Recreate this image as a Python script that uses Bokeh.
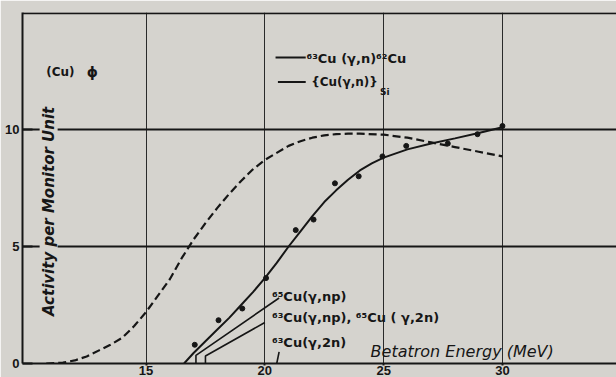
from bokeh.plotting import figure
from bokeh.models import Range1d, FixedTicker, Label, Span
from bokeh.embed import file_html
from bokeh.resources import INLINE

# ---- data ----
# dashed curve: 63Cu(g,n)62Cu
cu62_energy = [10.8, 11.5, 12.0, 12.5, 13.0, 13.5, 14.0, 14.5, 15.0, 15.5, 16.0, 16.5,
               17.0, 17.5, 18.0, 18.5, 19.0, 19.5, 20.0, 20.5, 21.0, 21.5, 22.0, 22.5,
               23.0, 23.5, 24.0, 25.0, 26.0, 27.0, 28.0, 29.0, 30.0]
cu62_activity = [0.0, 0.04, 0.13, 0.3, 0.55, 0.8, 1.1, 1.6, 2.2, 2.9, 3.6, 4.5,
                 5.3, 6.0, 6.65, 7.25, 7.8, 8.3, 8.7, 9.0, 9.3, 9.5, 9.65, 9.75,
                 9.8, 9.82, 9.82, 9.78, 9.65, 9.45, 9.25, 9.05, 8.85]

# solid curve: [Cu(g,n)]Si
cusi_energy = [16.6, 17.0, 17.5, 18.0, 18.5, 19.0, 19.5, 20.0, 20.5, 21.0, 21.5, 22.0,
               22.5, 23.0, 23.5, 24.0, 24.5, 25.0, 26.0, 27.0, 28.0, 29.0, 30.0]
cusi_activity = [0.0, 0.45, 0.95, 1.45, 1.95, 2.5, 3.05, 3.65, 4.3, 5.0, 5.65, 6.3,
                 6.9, 7.4, 7.85, 8.25, 8.55, 8.8, 9.15, 9.4, 9.62, 9.85, 10.1]

# measured points
pt_energy = [17.05, 18.05, 19.05, 20.05, 21.3, 22.05, 22.95, 23.95, 24.95, 25.95, 27.7, 28.95, 30.0]
pt_activity = [0.8, 1.85, 2.35, 3.65, 5.7, 6.15, 7.7, 8.0, 8.85, 9.3, 9.4, 9.8, 10.15]

# thresholds marked on the energy axis
threshold_labels = ["\u2076\u2075Cu(\u03b3,np)",
                    "\u2076\u00b3Cu(\u03b3,np), \u2076\u2075Cu ( \u03b3,2n)",
                    "\u2076\u00b3Cu(\u03b3,2n)"]
threshold_energy = [17.1, 17.5, 20.5]

x_ticks = [15, 20, 25, 30]
y_ticks = [0, 5, 10]

BG = "#d5d3ce"
INK = "#161616"

p = figure(width=616, height=377, output_backend="svg", toolbar_location=None,
           x_range=Range1d(9.8, 34.8), y_range=Range1d(0, 15),
           min_border_left=22, min_border_right=0, min_border_top=12, min_border_bottom=14)
p.background_fill_color = BG
p.border_fill_color = BG
p.outline_line_color = None

# axes
for ax in (p.xaxis, p.yaxis):
    ax.axis_line_color = INK
    ax.axis_line_width = 2
    ax.major_tick_line_color = INK
    ax.major_tick_line_width = 2
    ax.minor_tick_line_color = None
    ax.major_label_text_font = "Liberation Sans"
    ax.major_label_text_font_style = "bold"
    ax.major_label_text_font_size = "13px"
    ax.major_label_text_color = INK
p.xaxis.ticker = FixedTicker(ticks=x_ticks)
p.xaxis.major_tick_in = 0
p.xaxis.major_tick_out = 2
p.xaxis.major_label_standoff = 0
p.yaxis.ticker = FixedTicker(ticks=y_ticks)
p.yaxis.major_tick_in = 10
p.yaxis.major_tick_out = 0
p.yaxis.major_label_standoff = 3

# grid
p.xgrid.ticker = FixedTicker(ticks=x_ticks)
p.xgrid.grid_line_color = "#2a2a2a"
p.xgrid.grid_line_width = 1
p.ygrid.ticker = FixedTicker(ticks=[5, 10])
p.ygrid.grid_line_color = INK
p.ygrid.grid_line_width = 2

# top frame line
p.add_layout(Span(location=14.97, dimension="width", line_color=INK, line_width=2))

# curves
p.line(cu62_energy, cu62_activity, line_color=INK, line_width=2.2, line_dash="8 4")
p.line(cusi_energy, cusi_activity, line_color=INK, line_width=2)
p.scatter(pt_energy, pt_activity, size=5, color=INK)

# threshold leader lines
leader_start = [(20.6, 2.8), (20.0, 1.75), (20.6, 0.5)]
leader_knee = [0.35, 0.32, 0.0]
for (sx, sy), knee, thr in zip(leader_start, leader_knee, threshold_energy):
    if knee > 0:
        p.line([sx, thr, thr], [sy, knee, 0], line_color=INK, line_width=1.6)
    else:
        p.line([sx, thr], [sy, 0], line_color=INK, line_width=1.6)

label_y = [2.85, 1.95, 0.9]
for txt, ly in zip(threshold_labels, label_y):
    p.add_layout(Label(x=20.3, y=ly, text=txt, text_font="DejaVu Sans", text_font_style="bold",
                       text_font_size="13px", text_color=INK, text_baseline="middle"))

# legend (hand drawn style)
p.line([20.45, 21.72], [13.08, 13.08], line_color=INK, line_width=2)
p.line([20.55, 21.72], [12.03, 12.03], line_color=INK, line_width=2)
p.add_layout(Label(x=21.75, y=13.05, text="\u2076\u00b3Cu (\u03b3,n)\u2076\u00b2Cu", text_font="DejaVu Sans",
                   text_font_style="bold", text_font_size="13px", text_color=INK, text_baseline="middle"))
p.add_layout(Label(x=21.95, y=12.03, text="{Cu(\u03b3,n)}", text_font="DejaVu Sans",
                   text_font_style="bold", text_font_size="12px", text_color=INK, text_baseline="middle"))
p.add_layout(Label(x=24.85, y=11.6, text="Si", text_font="DejaVu Sans",
                   text_font_style="bold", text_font_size="9px", text_color=INK, text_baseline="middle"))

p.add_layout(Label(x=10.8, y=12.45, text="(Cu)", text_font="DejaVu Sans", text_font_style="bold",
                   text_font_size="12px", text_color=INK, text_baseline="middle"))
p.add_layout(Label(x=12.5, y=12.45, text="\u03d5", text_font="DejaVu Sans", text_font_style="bold",
                   text_font_size="14px", text_color=INK, text_baseline="middle"))

# axis titles inside the frame
p.add_layout(Label(x=24.45, y=0.12, text="Betatron Energy (MeV)", text_font="DejaVu Sans",
                   text_font_style="italic", text_font_size="16px", text_color=INK,
                   text_baseline="bottom"))
p.add_layout(Label(x=10.9, y=6.5, text="Activity per Monitor Unit", text_font="DejaVu Sans",
                   text_font_style="bold italic", text_font_size="15px", text_color=INK,
                   text_align="center", text_baseline="middle", angle=1.5708,
                   background_fill_color=BG, background_fill_alpha=1.0))

html = file_html(p, INLINE)
html = html.replace("<body>", "<body style=\"background:%s\">" % BG, 1)
open("out.html", "w").write(html)
